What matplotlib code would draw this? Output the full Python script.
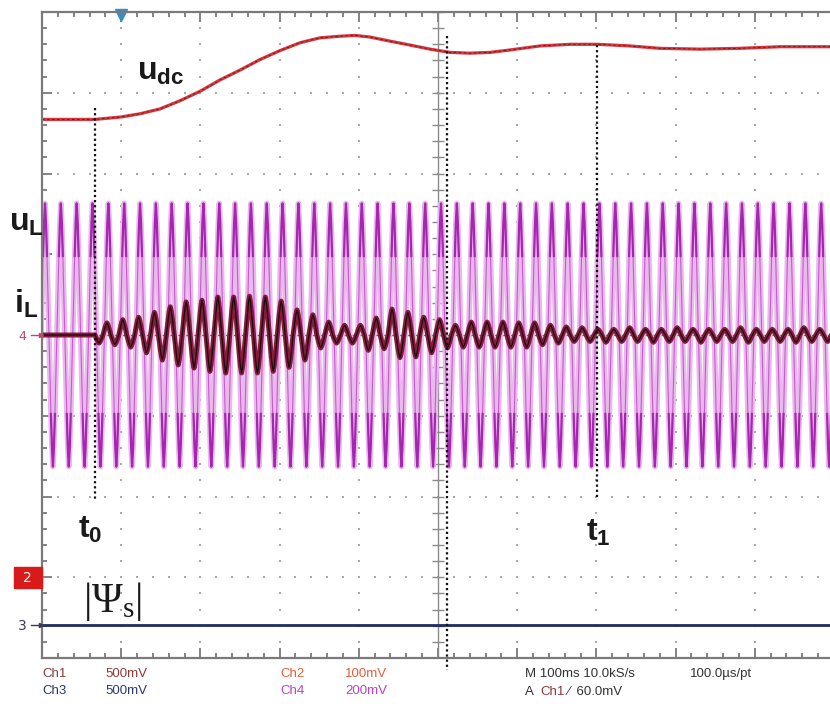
import matplotlib

matplotlib.use("Agg")

import matplotlib.pyplot as plt
import numpy as np
from matplotlib.collections import LineCollection
from matplotlib.patches import Rectangle

# time in ms (100 ms/div), amplitude in screen divisions (centre line = 0)
udc_t = [0, 67, 100, 124, 149, 174, 200, 225, 250, 275, 300, 326, 351, 376, 395, 414, 439, 465,
         490, 515, 540, 566, 591, 629, 667, 701, 742, 780, 831, 881, 932, 1000]
udc_v = [2.67, 2.67, 2.70, 2.74, 2.80, 2.90, 3.02, 3.16, 3.28, 3.41, 3.52, 3.62, 3.68, 3.70, 3.71,
         3.69, 3.64, 3.59, 3.54, 3.50, 3.49, 3.50, 3.53, 3.58, 3.60, 3.60, 3.58, 3.55, 3.54, 3.55,
         3.57, 3.57]

# one 50 Hz cycle of the traces as it shows on screen (rising zero crossing first)
cycle_shape = [0.0, 0.3, 0.6, 0.85, 1.0, 0.85, 0.6, 0.3,
               0.0, -0.3, -0.6, -0.85, -1.0, -0.85, -0.6, -0.3]
cycle_ms = 20.0

ul_start = -1.2
ul_amp = [1.63] * 51

il_start = 67.0
il_peak = [0.15, 0.19, 0.22, 0.28, 0.35, 0.41, 0.43, 0.47, 0.47, 0.48, 0.47, 0.42, 0.31, 0.25, 0.16,
           0.12, 0.12, 0.21, 0.32, 0.28, 0.22, 0.19, 0.12, 0.16, 0.16, 0.16, 0.15, 0.15, 0.12, 0.10,
           0.09, 0.07, 0.07, 0.09, 0.07, 0.07, 0.09, 0.07, 0.07, 0.07, 0.09, 0.07, 0.07, 0.07, 0.09,
           0.07, 0.07]
il_trough = [0.10, 0.12, 0.15, 0.22, 0.31, 0.37, 0.41, 0.45, 0.47, 0.47, 0.47, 0.45, 0.40, 0.31, 0.16,
             0.10, 0.10, 0.19, 0.17, 0.28, 0.27, 0.22, 0.16, 0.15, 0.15, 0.15, 0.15, 0.15, 0.12, 0.10,
             0.08, 0.08, 0.09, 0.08, 0.08, 0.09, 0.08, 0.08, 0.09, 0.08, 0.08, 0.09, 0.08, 0.08, 0.09,
             0.08, 0.08]

psi_level = -3.59

cursor_t = [67, 511, 701]
cursor_top = [2.81, 3.70, 3.59]
cursor_bottom = [-2.04, -4.15, -2.04]

W, H = 830, 704


def fx(x):
    return x / W


def fy(y):
    return 1 - y / H


def build_wave(start, amps_pos, amps_neg, neg_first=False):
    shape = np.array(cycle_shape)
    if neg_first:
        shape = np.roll(shape, -8)
    n = len(shape)
    t, v, rel = [], [], []
    for k, (ap, an) in enumerate(zip(amps_pos, amps_neg)):
        for i, s in enumerate(shape):
            t.append(start + (k + i / n) * cycle_ms)
            v.append(s * (ap if s > 0 else an))
            rel.append(abs(s))
    t.append(start + len(amps_pos) * cycle_ms)
    v.append(0.0)
    rel.append(0.0)
    return np.array(t), np.array(v), np.array(rel)


fig = plt.figure(figsize=(W / 100, H / 100), dpi=100)
ax = fig.add_axes([fx(42), 46 / H, 792 / W, 646 / H])
ax.set_xlim(0, 1000)
ax.set_ylim(-4, 4)

frame = "#7a7a7a"
for side in ("left", "top", "bottom"):
    ax.spines[side].set_color(frame)
    ax.spines[side].set_linewidth(1.6)
ax.spines["right"].set_visible(False)
ax.set_xticks(np.arange(0, 1001, 100))
ax.set_xticks(np.arange(0, 1001, 20), minor=True)
ax.set_yticks(np.arange(-4, 4.01, 1))
ax.set_yticks(np.arange(-4, 4.01, 0.2), minor=True)
ax.tick_params(which="both", direction="in", top=True, bottom=True, left=True, right=False,
               labelleft=False, labelbottom=False, color=frame, width=1.3)
ax.tick_params(which="major", length=7)
ax.tick_params(which="minor", length=3.5)

# graticule dots
dot_y = np.arange(-4, 4.01, 0.2)
dot_x = np.arange(0, 1001, 20)
for i in range(1, 10):
    if i != 5:
        ax.plot([i * 100] * len(dot_y), dot_y, ls="none", marker="s", ms=1.5, color="#a8a8a8", mew=0)
for j in range(-3, 4):
    if j != 0:
        ax.plot(dot_x, [j] * len(dot_x), ls="none", marker="s", ms=1.5, color="#a8a8a8", mew=0)

# centre cross with ticks
ax.axvline(500, color="#8a8a8a", lw=1.0)
ax.axhline(0, color="#5a6a8a", lw=1.0)
segs = [[(x, -0.06), (x, 0.06)] for x in dot_x]
segs += [[(493, y), (507, y)] for y in dot_y]
ax.add_collection(LineCollection(segs, colors="#8a8a8a", linewidths=1.0))

# u_L: light band with darker strokes near the crests
t_ul, v_ul, r_ul = build_wave(ul_start, ul_amp, ul_amp)
ax.plot(t_ul, v_ul, color="#ebb8ee", lw=4.0)
ax.plot(t_ul, v_ul, color="#c65ccd", lw=0.8)
ax.plot(t_ul, np.where(r_ul > 0.55, v_ul, np.nan), color="#a526b0", lw=1.6)

# u_dc
ax.plot(udc_t, udc_v, color="#d4383e", lw=2.3)
ax.plot(udc_t, udc_v, color="#6a1414", lw=0.6, ls=(0, (3, 3)))

# i_L
t_il, v_il, _ = build_wave(il_start, il_peak, il_trough, neg_first=True)
t_il = np.concatenate([[0, il_start], t_il])
v_il = np.concatenate([[0, 0], v_il])
ax.plot(t_il, v_il, color="#861c3c", lw=3.6)
ax.plot(t_il, v_il, color="#1a0a10", lw=0.9)

# |Psi_s|
ax.plot([0, 1000], [psi_level, psi_level], color="#1d2d5e", lw=2.0)

# cursors
for t, top, bot in zip(cursor_t, cursor_top, cursor_bottom):
    ax.plot([t, t], [top, bot], color="#111111", lw=1.6, ls=(0, (1, 1.3)), clip_on=False)

# trigger marker
ax.plot(100, 3.96, marker="v", ms=8, color="#3a8cc4", clip_on=False)

# labels
lab = dict(fontsize=23, fontweight="bold", color="#1a1a1a", family="Liberation Sans", va="baseline")
fig.text(fx(137), fy(80), r"$\mathregular{u_{dc}}$", **lab)
fig.text(fx(9), fy(231), r"$\mathregular{u_L}$", **lab)
fig.text(fx(14), fy(313), r"$\mathregular{i_L}$", **lab)
fig.text(fx(78), fy(538), r"$\mathregular{t_0}$", **lab)
fig.text(fx(586), fy(541), r"$\mathregular{t_1}$", **lab)
fig.text(fx(83), fy(612), r"$\mathregular{|\Psi_s|}$", fontsize=30, color="#1a1a1a",
         family="Liberation Serif", va="baseline")

# channel markers on the left edge
fig.patches.append(Rectangle((fx(14), fy(588)), (42 - 14) / W, 21 / H, transform=fig.transFigure,
                             color="#d81a1a", zorder=3))
fig.text(fx(27), fy(578), "2", color="white", fontsize=10, ha="center", va="center", zorder=4)
fig.text(fx(22), fy(626), "3", color="#3a3a5a", fontsize=10, ha="center", va="center")
fig.text(fx(22), fy(336), "4", color="#c2457c", fontsize=9, ha="center", va="center")
for y, c in ((578, "#f0d0d0"), (625, "#3a3a5a"), (335, "#c2457c")):
    fig.add_artist(plt.Line2D([fx(31), fx(41)], [fy(y), fy(y)], color=c, lw=1.0,
                              marker=">", markevery=[1], ms=3, transform=fig.transFigure))

# status lines
st = dict(fontsize=9.5, family="Liberation Sans", va="center")
fig.text(fx(42), fy(674), "Ch1", color="#8a3a3a", **st)
fig.text(fx(105), fy(674), "500mV", color="#8a3a3a", **st)
fig.text(fx(42), fy(691), "Ch3", color="#2c3a6e", **st)
fig.text(fx(105), fy(691), "500mV", color="#2c3a6e", **st)
fig.text(fx(280), fy(674), "Ch2", color="#e0603a", **st)
fig.text(fx(345), fy(674), "100mV", color="#e0603a", **st)
fig.text(fx(280), fy(691), "Ch4", color="#c040c0", **st)
fig.text(fx(345), fy(691), "200mV", color="#c040c0", **st)
fig.text(fx(525), fy(674), "M 100ms 10.0kS/s", color="#333333", **st)
fig.text(fx(690), fy(674), "100.0\u00b5s/pt", color="#333333", **st)
fig.text(fx(525), fy(692), "A", color="#333333", **st)
fig.text(fx(540), fy(692), "Ch1", color="#8a3a3a", **st)
fig.text(fx(568), fy(692), "\u2215  60.0mV", color="#333333", **st)

fig.savefig("out.png", dpi=100)
plt.close(fig)
